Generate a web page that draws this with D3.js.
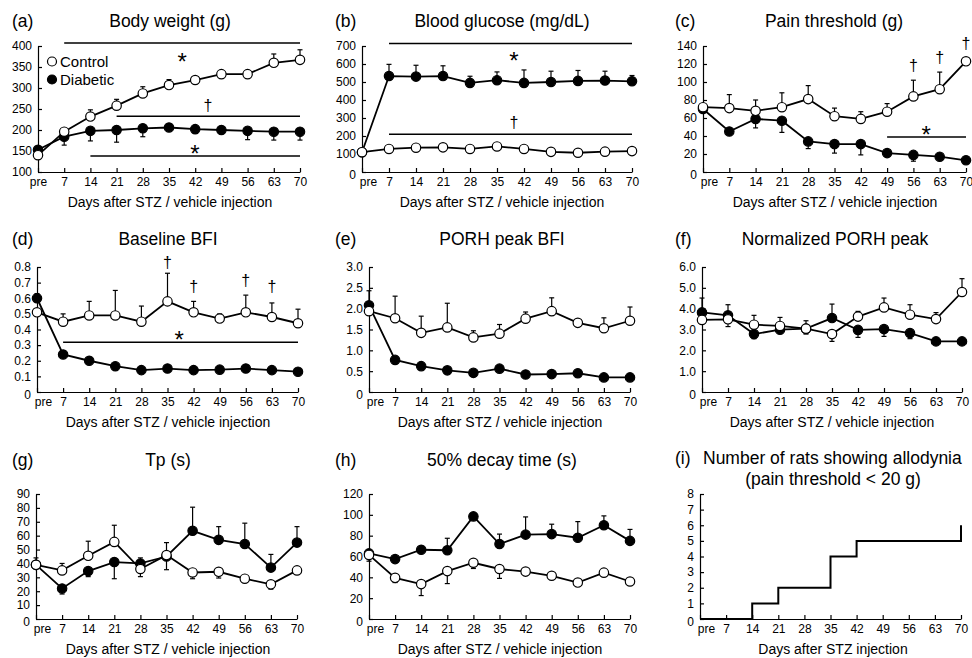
<!DOCTYPE html>
<html>
<head>
<meta charset="utf-8">
<script src="https://cdn.jsdelivr.net/npm/d3@7"></script>
<style>
  body { margin: 0; background: #fff; }
  svg { display: block; font-family: "Liberation Sans", Arial, sans-serif; }
</style>
</head>
<body>
<div id="chart"></div>
<script>
// days after injection ("pre" is day 0)
const days = [0, 7, 14, 21, 28, 35, 42, 49, 56, 63, 70];
const dayLabels = ["pre", "7", "14", "21", "28", "35", "42", "49", "56", "63", "70"];

// (a) body weight
const weightControl = [140, 196, 232, 258, 287, 307, 319, 333, 333, 360, 367];
const weightControlErr = [0, 3, 16, 15, 16, 13, 4, 3, 3, 21, 24];
const weightDiabetic = [153, 184, 198, 200, 204, 206, 202, 200, 198, 196, 196];
const weightDiabeticErr = [-4, -20, -24, -29, -20, -3, -10, -4, -21, -20, -20];
const weightTicks = [100, 150, 200, 250, 300, 350, 400];
const weightSigLines = [[7, 70, 407], [21, 70, 233], [14, 70, 138]];
const weightSigMarks = [[38.5, 379, "*"], [45.4, 260, "†"], [41.9, 160, "*"]];

// (b) blood glucose
const glucoseControl = [110, 128, 135, 137, 128, 142, 128, 112, 107, 113, 116];
const glucoseControlErr = [0, 0, 0, 0, 0, 0, 0, 0, 0, 0, 0];
const glucoseDiabetic = [110, 533, 530, 533, 495, 510, 495, 500, 506, 508, 504];
const glucoseDiabeticErr = [0, 65, 63, 57, 37, 46, 72, 60, 58, 52, 32];
const glucoseTicks = [0, 100, 200, 300, 400, 500, 600, 700];
const glucoseSigLines = [[7, 70, 714], [7, 70, 210]];
const glucoseSigMarks = [[39.4, 656, "*"], [39.4, 278, "†"]];

// (c) pain threshold
const painControl = [72, 71, 68, 72, 81, 62, 59, 67, 84, 92, 123];
const painControlErr = [0, 15, 12, 16, 15, 9, 8, 9, 18, 19, 0];
const painDiabetic = [70, 45, 59, 57, 34, 31, 31, 21, 19, 17, 13];
const painDiabeticErr = [0, 0, -10, -13, -8, -10, -12, 0, -7, 0, 0];
const painTicks = [0, 20, 40, 60, 80, 100, 120, 140];
const painSigLines = [[49, 70, 39]];
const painSigMarks = [[59.4, 49, "*"], [56, 119, "†"], [63, 128, "†"], [70, 143, "†"]];

// (d) baseline BFI
const bfiControl = [0.51, 0.45, 0.49, 0.49, 0.45, 0.58, 0.51, 0.47, 0.51, 0.48, 0.44];
const bfiControlErr = [0, 0.05, 0.09, 0.16, 0.1, 0.18, 0.07, 0.03, 0.11, 0.09, 0.09];
const bfiDiabetic = [0.60, 0.24, 0.20, 0.165, 0.14, 0.15, 0.14, 0.143, 0.15, 0.14, 0.13];
const bfiDiabeticErr = [0.03, 0, 0, 0, 0, 0, 0, 0, 0, 0, 0];
const bfiTicks = [0, 0.1, 0.2, 0.3, 0.4, 0.5, 0.6, 0.7, 0.8];
const bfiSigLines = [[7, 70, 0.318]];
const bfiSigMarks = [[38.1, 0.378, "*"], [35, 0.832, "†"], [42, 0.678, "†"], [56, 0.717, "†"], [63, 0.678, "†"]];

// (e) PORH peak BFI
const peakControl = [1.94, 1.77, 1.42, 1.55, 1.31, 1.40, 1.76, 1.94, 1.66, 1.53, 1.71];
const peakControlErr = [0, 0.53, 0.4, 0.58, 0.16, 0.22, 0.16, 0.32, 0, 0.25, 0.33];
const peakDiabetic = [2.08, 0.77, 0.62, 0.52, 0.46, 0.56, 0.42, 0.43, 0.45, 0.35, 0.35];
const peakDiabeticErr = [0.35, 0, 0, 0, 0, 0, 0, 0, 0, 0, 0];
const peakTicks = [0, 0.5, 1.0, 1.5, 2.0, 2.5, 3.0];

// (f) normalized PORH peak
const normControl = [3.46, 3.49, 3.23, 3.17, 3.04, 2.78, 3.62, 4.06, 3.71, 3.50, 4.80];
const normControlErr = [0, -0.35, 0.45, 0.41, 0.38, -0.35, 0.25, 0.45, 0.48, 0.31, 0.64];
const normDiabetic = [3.82, 3.68, 2.78, 2.99, 3.04, 3.55, 2.98, 3.02, 2.83, 2.43, 2.43];
const normDiabeticErr = [0.69, 0.51, -0.22, 0, -0.26, 0.67, -0.36, -0.35, -0.27, 0, 0];
const normTicks = [0, 1, 2, 3, 4, 5, 6];

// (g) Tp
const tpControl = [39, 35, 45.5, 55.5, 36, 46, 33.5, 34, 29, 25, 35];
const tpControlErr = [0, 5, 10.5, 12, -5.5, 9, -4.5, -4.5, 0, -3.5, 0];
const tpDiabetic = [39, 22, 34.5, 41, 40, 45, 63.5, 57, 54, 37, 55];
const tpDiabeticErr = [5, -4, -4, -12, 4, -9.5, 17, 9.5, 15, 9.5, 11.5];
const tpTicks = [0, 10, 20, 30, 40, 50, 60, 70, 80, 90];

// (h) 50% decay time
const decayControl = [61.5, 39.5, 33.5, 46, 54, 48, 45.5, 41.5, 35, 44.5, 36];
const decayControlErr = [-6, -4.5, -11, -12, -5.5, -9, 0, 0, 0, 0, 0];
const decayDiabetic = [63, 57.5, 66.5, 66, 98.5, 72, 81, 81.5, 78, 90, 75];
const decayDiabeticErr = [0, 0, 0, 11.5, 3, 9.5, 17, 9.5, 15.5, 9, 11];
const decayTicks = [0, 20, 40, 60, 80, 100, 120];

// (i) number of rats with allodynia
const allodyniaCount = [0, 0, 1, 2, 2, 4, 5, 5, 5, 5, 6];
const countTicks = [0, 1, 2, 3, 4, 5, 6, 7, 8];

const width = 972;
const height = 658;
const fmt1 = d => d === 0 ? "0" : d3.format(".1f")(d);

const svg = d3.select("#chart").append("svg")
  .attr("width", width)
  .attr("height", height);

// layout of each panel (pixel box of the plot area)
const panels = [
  { tag: "(a)", tagX: 12, title: "Body weight (g)", titleX: 170, titleY: 26.5, x0: 38, x1: 300, yTop: 46, yBot: 172,
    domain: [100, 400], ticks: weightTicks, format: d3.format("d"), axisTitleX: 170,
    control: weightControl, controlErr: weightControlErr, diabetic: weightDiabetic, diabeticErr: weightDiabeticErr,
    sigLines: weightSigLines, sigMarks: weightSigMarks, legend: true },
  { tag: "(b)", tagX: 335, title: "Blood glucose (mg/dL)", titleX: 502, titleY: 26.5, x0: 362, x1: 632, yTop: 46, yBot: 172,
    domain: [0, 700], ticks: glucoseTicks, format: d3.format("d"), axisTitleX: 502,
    control: glucoseControl, controlErr: glucoseControlErr, diabetic: glucoseDiabetic, diabeticErr: glucoseDiabeticErr,
    sigLines: glucoseSigLines, sigMarks: glucoseSigMarks },
  { tag: "(c)", tagX: 675, title: "Pain threshold (g)", titleX: 834, titleY: 26.5, x0: 703, x1: 966, yTop: 46, yBot: 172,
    domain: [0, 140], ticks: painTicks, format: d3.format("d"), axisTitleX: 835,
    control: painControl, controlErr: painControlErr, diabetic: painDiabetic, diabeticErr: painDiabeticErr,
    sigLines: painSigLines, sigMarks: painSigMarks },
  { tag: "(d)", tagX: 12, title: "Baseline BFI", titleX: 168, titleY: 244.5, x0: 37, x1: 298, yTop: 267, yBot: 392,
    domain: [0, 0.8], ticks: bfiTicks, format: fmt1, axisTitleX: 168,
    control: bfiControl, controlErr: bfiControlErr, diabetic: bfiDiabetic, diabeticErr: bfiDiabeticErr,
    sigLines: bfiSigLines, sigMarks: bfiSigMarks },
  { tag: "(e)", tagX: 335, title: "PORH peak BFI", titleX: 502, titleY: 244.5, x0: 369, x1: 630, yTop: 267, yBot: 392,
    domain: [0, 3], ticks: peakTicks, format: fmt1, axisTitleX: 500,
    control: peakControl, controlErr: peakControlErr, diabetic: peakDiabetic, diabeticErr: peakDiabeticErr },
  { tag: "(f)", tagX: 675, title: "Normalized PORH peak", titleX: 835, titleY: 244.5, x0: 702, x1: 962, yTop: 267, yBot: 392,
    domain: [0, 6], ticks: normTicks, format: fmt1, axisTitleX: 832,
    control: normControl, controlErr: normControlErr, diabetic: normDiabetic, diabeticErr: normDiabeticErr },
  { tag: "(g)", tagX: 12, title: "Tp (s)", titleX: 168, titleY: 466, x0: 36, x1: 297, yTop: 494, yBot: 619,
    domain: [0, 90], ticks: tpTicks, format: d3.format("d"), axisTitleX: 168,
    control: tpControl, controlErr: tpControlErr, diabetic: tpDiabetic, diabeticErr: tpDiabeticErr },
  { tag: "(h)", tagX: 335, title: "50% decay time (s)", titleX: 502, titleY: 466, x0: 369, x1: 630, yTop: 494, yBot: 619,
    domain: [0, 120], ticks: decayTicks, format: d3.format("d"), axisTitleX: 500,
    control: decayControl, controlErr: decayControlErr, diabetic: decayDiabetic, diabeticErr: decayDiabeticErr },
  { tag: "(i)", tagX: 675, title: "Number of rats showing allodynia", titleX: 703, titleY: 464, x0: 700, x1: 961, yTop: 494, yBot: 619,
    domain: [0, 8], ticks: countTicks, format: d3.format("d"), axisTitleX: 833, axisTitle: "Days after STZ injection",
    step: allodyniaCount, subtitle: "(pain threshold < 20 g)" }
];

panels.forEach(drawPanel);

function drawPanel(p) {
  const g = svg.append("g");
  const x = d3.scaleLinear().domain([0, 70]).range([p.x0, p.x1]);
  const y = d3.scaleLinear().domain(p.domain).range([p.yBot, p.yTop]);

  // titles
  g.append("text").attr("x", p.tagX).attr("y", p.titleY)
    .attr("font-size", 17.5).text(p.tag);
  g.append("text").attr("x", p.titleX).attr("y", p.titleY)
    .attr("font-size", 17.5)
    .attr("text-anchor", p.step ? "start" : "middle")
    .text(p.title);
  if (p.subtitle) {
    g.append("text").attr("x", 833).attr("y", p.titleY + 21)
      .attr("font-size", 17.5).attr("text-anchor", "middle").text(p.subtitle);
  }

  // axes, ticks pointing inside
  const xAxis = g.append("g")
    .attr("transform", `translate(0,${p.yBot})`)
    .call(d3.axisBottom(x).tickValues(days).tickFormat((d, i) => dayLabels[i])
      .tickSizeInner(-4).tickSizeOuter(0).tickPadding(5));
  const yAxis = g.append("g")
    .attr("transform", `translate(${p.x0},0)`)
    .call(d3.axisLeft(y).tickValues(p.ticks).tickFormat(p.format)
      .tickSizeInner(-4).tickSizeOuter(0).tickPadding(6));
  [xAxis, yAxis].forEach(a => {
    a.attr("font-size", 12).attr("font-family", null);
    a.selectAll("path, line").attr("stroke", "#000").attr("stroke-width", 1.2);
    a.selectAll("text").attr("fill", "#000");
  });
  if (p.domain[0] === 0) {
    xAxis.selectAll("text").filter(d => d === 0).attr("dx", 6);
    yAxis.selectAll("text").filter(d => d === 0).attr("dy", "0.55em");
  }

  g.append("text")
    .attr("x", p.axisTitleX).attr("y", p.yBot + 34.5)
    .attr("font-size", 14).attr("text-anchor", "middle")
    .text(p.axisTitle || "Days after STZ / vehicle injection");

  // significance bars
  (p.sigLines || []).forEach(s => {
    g.append("line")
      .attr("x1", x(s[0])).attr("x2", x(s[1]))
      .attr("y1", y(s[2])).attr("y2", y(s[2]))
      .attr("stroke", "#000").attr("stroke-width", 1.5);
  });
  (p.sigMarks || []).forEach(s => {
    g.append("text")
      .attr("x", x(s[0])).attr("y", y(s[1]))
      .attr("dy", s[2] === "*" ? "0.62em" : "0.36em")
      .attr("text-anchor", "middle")
      .attr("font-size", s[2] === "*" ? 24 : 16)
      .text(s[2]);
  });

  if (p.step) {
    const step = d3.line().x((d, i) => x(days[i])).y(d => y(d)).curve(d3.curveStepAfter);
    g.append("path").datum(p.step)
      .attr("fill", "none").attr("stroke", "#000").attr("stroke-width", 2)
      .attr("d", step);
    return;
  }

  // diabetic first, control on top
  drawSeries(g, x, y, p.diabetic, p.diabeticErr, "#000");
  drawSeries(g, x, y, p.control, p.controlErr, "#fff");

  if (p.legend) {
    const items = [["Control", "#fff"], ["Diabetic", "#000"]];
    items.forEach((it, i) => {
      g.append("circle").attr("cx", 52).attr("cy", 61.5 + i * 18).attr("r", 4.5)
        .attr("fill", it[1]).attr("stroke", "#000").attr("stroke-width", 1.2);
      g.append("text").attr("x", 60).attr("y", 61.5 + i * 18).attr("dy", "0.36em")
        .attr("font-size", 15).text(it[0]);
    });
  }
}

function drawSeries(g, x, y, values, errs, fill) {
  const pts = values.map((v, i) => ({ day: days[i], v: v, e: errs[i] }));
  // error bars (one-sided)
  pts.filter(d => d.e !== 0).forEach(d => {
    const cx = x(d.day);
    const ye = y(d.v + d.e);
    g.append("line").attr("x1", cx).attr("x2", cx).attr("y1", y(d.v)).attr("y2", ye)
      .attr("stroke", "#000").attr("stroke-width", 1.2);
    g.append("line").attr("x1", cx - 2.5).attr("x2", cx + 2.5).attr("y1", ye).attr("y2", ye)
      .attr("stroke", "#000").attr("stroke-width", 1.2);
  });
  const line = d3.line().x(d => x(d.day)).y(d => y(d.v));
  g.append("path").datum(pts)
    .attr("fill", "none").attr("stroke", "#000").attr("stroke-width", 1.8)
    .attr("d", line);
  g.selectAll(null).data(pts).join("circle")
    .attr("cx", d => x(d.day)).attr("cy", d => y(d.v)).attr("r", 4.7)
    .attr("fill", fill).attr("stroke", "#000").attr("stroke-width", 1.2);
}
</script>
</body>
</html>
